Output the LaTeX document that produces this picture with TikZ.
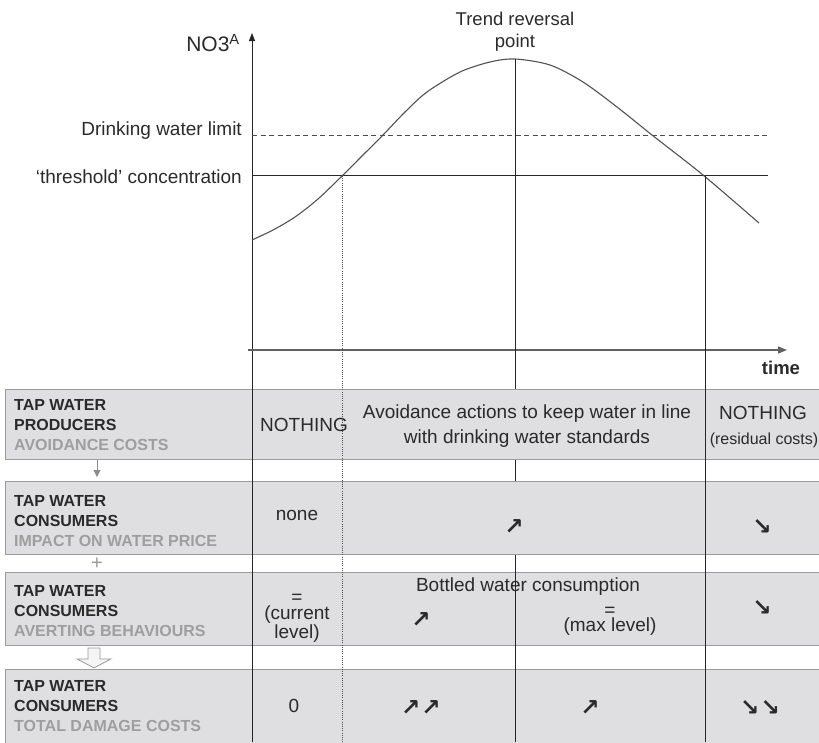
\documentclass[tikz,border=0pt]{standalone}
\usepackage{fontspec}
\setmainfont{Liberation Sans}
\newfontfamily\arrowfont{DejaVu Sans}
\usepackage{tikz}
\usetikzlibrary{calc,positioning,arrows.meta}
\usepackage{xcolor}
\definecolor{bandfill}{HTML}{DFDFE1}
\definecolor{bandline}{HTML}{9C9C9C}
\definecolor{ink}{HTML}{2A2A2A}
\tikzset{
  band/.style={rectangle,draw=bandline,line width=0.9pt,fill=bandfill,minimum width=830pt,inner sep=0pt,anchor=north west},
  who/.style={font=\fontsize{16}{20}\selectfont\bfseries,text=ink,align=left,anchor=north west,inner sep=0pt},
  cell/.style={font=\fontsize{19}{25}\selectfont,text=ink,align=center,inner sep=0pt},
  trend/.style={font=\arrowfont\bfseries\fontsize{23}{23}\selectfont,text=ink,inner sep=0pt},
  axis/.style={line width=0.9pt,black!85,-{Triangle[length=8pt,width=6pt]}},
  timeaxis/.style={line width=1.6pt,black!62,-{Triangle[length=9pt,width=7pt]}},
  guide/.style={line width=0.8pt,black!85},
  dotguide/.style={line width=0.8pt,black!70,dash pattern=on 1pt off 1.2pt},
  limit/.style={line width=0.8pt,black!70,dash pattern=on 5pt off 3.5pt},
  conc/.style={line width=1.1pt,black!68},
  flow/.style={line width=1pt,black!45,-{Triangle[length=7pt,width=7pt]},shorten >=4pt},
}

\begin{document}
\begin{tikzpicture}[x=1pt,y=-1pt,
  plus/.style={font=\fontsize{20}{20}\selectfont,text=black!40,inner sep=0pt},
  sumarrow/.style={draw=black!40,fill=black!4,line width=0.8pt}]
  \useasboundingbox (0,0) rectangle (819,742);
  % table rows
  \node[band,minimum height=70pt](rowA) at (5,389){};
  \node[band,minimum height=73pt](rowB) at (5,481){};
  \node[band,minimum height=73pt](rowC) at (5,572){};
  \node[band,minimum height=76pt](rowD) at (5,669){};
  \node[who](whoA) at (14,399){TAP WATER\\PRODUCERS\\\textcolor{black!38}{AVOIDANCE COSTS}};
  \node[who](whoB) at (14,495){TAP WATER\\CONSUMERS\\\textcolor{black!38}{IMPACT ON WATER PRICE}};
  \node[who](whoC) at (14,585){TAP WATER\\CONSUMERS\\\textcolor{black!38}{AVERTING BEHAVIOURS}};
  \node[who](whoD) at (14,680){TAP WATER\\CONSUMERS\\\textcolor{black!38}{TOTAL DAMAGE COSTS}};
  \draw[flow] ($(rowA.south west)+(92,0)$) -- ($(rowB.north west)+(92,0)$);
  \node[plus](andBC) at ($(rowB.south west)!0.5!(rowC.north west)+(92,0)$){+};
  \coordinate (sumtop) at ($(rowC.south west)+(89,2)$);
  \draw[sumarrow] (sumtop) ++(-6,0) -- ++(12,0) -- ++(0,11) -- ++(11,0) -- ++(-17,9) -- ++(-17,-9) -- ++(11,0) -- cycle;
  % graph
  \coordinate (ybot) at (252,742); \coordinate (ytop) at (252,33);
  \coordinate (xleft) at (248,350); \coordinate (xright) at (787,350);
  \draw[axis] (ybot) -- (ytop);
  \draw[timeaxis] (xleft) -- (xright);
  \node[anchor=east,font=\fontsize{21}{21}\selectfont,text=ink,inner sep=0pt](ylab) at (240,43){NO3\textsuperscript{A}};
  \node[font=\fontsize{18.5}{18.5}\selectfont\bfseries,text=ink,inner sep=0pt](xlab) at (781,368){time};
  \coordinate (dwlL) at (252,135); \coordinate (dwlR) at (770,135);
  \coordinate (thrL) at (252,175); \coordinate (thrR) at (768,175);
  \draw[limit] (dwlL) -- (dwlR);
  \draw[guide] (thrL) -- (thrR);
  \node[cell,anchor=east](dwl) at (242,131){Drinking water limit};
  \node[cell,anchor=east](thr) at (242,177){‘threshold’ concentration};
  \draw[conc] plot[smooth] coordinates {(252,240) (273,230) (295,217) (318,199) (342,176) (362,156) (383,135) (405,112) (427,92) (460,72) (490,62) (515,59) (550,65) (583,82) (617,107) (652,135) (703,175) (759,223)};
  \node[cell,font=\fontsize{18.5}{22}\selectfont](peak) at (515,32){Trend reversal\\point};
  \coordinate (rise) at (342,176); \coordinate (top) at (515,59); \coordinate (fall) at (705,175);
  \draw[dotguide] (rise) -- (rise |- ybot);
  \draw[guide] (top) -- (top |- rowA.north);
  \draw[guide] (top |- rowA.south) -- (top |- rowB.north);
  \draw[guide] (top |- rowB.south) -- (top |- ybot);
  \draw[guide] (fall) -- (fall |- ybot);
  % table cells
  \node[cell](avA) at (304,425){NOTHING};
  \node[cell](avB) at (527,426){Avoidance actions to keep water in line\\with drinking water standards};
  \node[cell](avC) at (763,413){NOTHING};
  \node[cell,font=\fontsize{16}{18}\selectfont](avD) at (764,440){(residual costs)};
  \node[cell](prA) at (297,515){none};
  \node[trend](prB) at (514,527){↗};
  \node[trend](prC) at (762,527){↘};
  \node[cell,font=\fontsize{19}{16}\selectfont](abA) at (297,618){=\\(current\\level)};
  \node[cell](bottle) at (528,587){Bottled water consumption};
  \node[trend](abB) at (421,620){↗};
  \node[cell,font=\fontsize{19}{15}\selectfont](abC) at (610,621){=\\(max level)};
  \node[trend](abD) at (762,608){↘};
  \node[cell](tdA) at (294,706){0};
  \node[trend](tdB) at (421,708){↗\hspace{1pt}↗};
  \node[trend](tdC) at (590,708){↗};
  \node[trend](tdD) at (760,708){↘\hspace{1pt}↘};
\end{tikzpicture}
\end{document}
